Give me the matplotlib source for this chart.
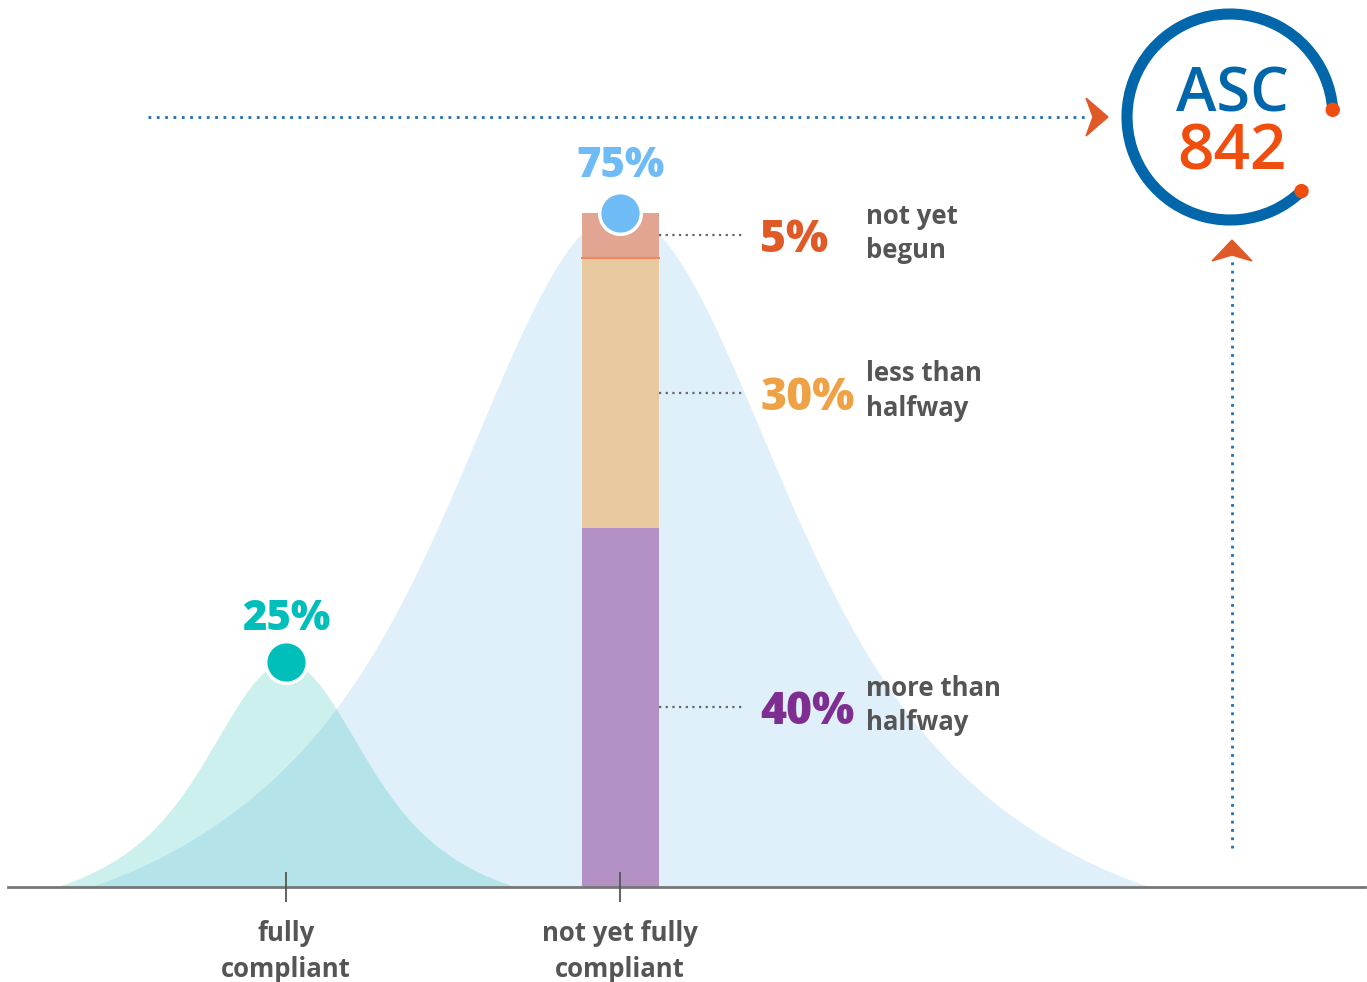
"""Compliance distribution chart with ASC 842 badge."""

import numpy as np
import matplotlib
matplotlib.use("Agg")
import matplotlib.pyplot as plt  # noqa: E402
from matplotlib.patches import Arc, Circle, Polygon  # noqa: E402

# ---- data -------------------------------------------------------------
categories = ["fully\ncompliant", "not yet fully\ncompliant"]
group_share = [25, 75]                       # peak of each bell
segment_values = [40, 30, 5]                 # stacked inside the 75% bar
segment_labels = ["more than\nhalfway", "less than\nhalfway", "not yet\nbegun"]
segment_colors = ["#b491c4", "#e8c9a0", "#e1a591"]
segment_text_colors = ["#7e2d91", "#eea245", "#e05a28"]

GREY = "#555555"
W, H = 1367, 982
FONT = "Open Sans"

fig = plt.figure(figsize=(W / 100, H / 100), dpi=100)
ax = fig.add_axes([0, 0, 1, 1])

# pixel frame -> data: category 0 at px 286, category 1 at px 620, baseline at px 887
px_per_x = 334.0
px_per_y = 674.0 / 75
x0 = -286 / px_per_x
ax.set_xlim(x0, (W - 286) / px_per_x)
ax.set_ylim(-(H - 887) / px_per_y, 887 / px_per_y)


def fx(px):
    return px / W


def fy(py):
    return 1 - py / H


def bell(d, s1, s2, reach, w=0.5):
    # soft bell: narrow core + wider shoulders, tapered to zero at +-reach
    g = lambda t: w * np.exp(-0.5 * (t / s1) ** 2) + (1 - w) * np.exp(-0.5 * (t / s2) ** 2)
    return np.clip((g(d) - g(reach)) / (1 - g(reach)), 0, None)


# shape of each bell in px: core width, shoulder width, half-span
bell_shapes = [(60, 120, 230), (125, 255, 530)]
bell_colors = [("#34c4bc", 0.25), ("#e0f0fa", 1.0)]

# ---- bells ------------------------------------------------------------
for i in (1, 0):
    s1, s2, reach = (v / px_per_x for v in bell_shapes[i])
    xs = np.linspace(i - reach, i + reach, 400)
    ys = group_share[i] * bell(xs - i, s1, s2, reach)
    col, a = bell_colors[i]
    ax.fill_between(xs, 0, ys, color=col, alpha=a, lw=0, zorder=1 + (1 - i))

# ---- stacked bar ------------------------------------------------------
bw = 77 / px_per_x
bottom = 0
mids = []
for v, c in zip(segment_values, segment_colors):
    ax.bar(1, v, bottom=bottom, width=bw, color=c, lw=0, zorder=3)
    mids.append(bottom + v / 2)
    bottom += v
ax.plot([1 - bw / 2, 1 + bw / 2], [bottom - segment_values[-1]] * 2,
        color="#ee8a5a", lw=1.5, zorder=4)

# leaders + labels
for m, v, lab, tc in zip(mids, segment_values, segment_labels, segment_text_colors):
    ax.plot([1 + bw / 2, 745 / px_per_x + x0], [m, m],
            color="#666666", lw=1.6, ls=(0, (1, 2)), zorder=4)
    ax.text(760 / px_per_x + x0, m, f"{v}%", color=tc, fontsize=32,
            fontweight=800, family=FONT, va="center_baseline", ha="left")
    ax.text(866 / px_per_x + x0, m + 0.2, lab, color=GREY, fontsize=18.5,
            fontweight="bold", family=FONT, va="center", ha="left", linespacing=1.35)

# peak dots + labels
dot_colors = ["#00bfba", "#6ebbf5"]
label_offsets = [23, 26]
for i, (s, c) in enumerate(zip(group_share, dot_colors)):
    ax.scatter([i], [s], s=900, color=c, edgecolor="white", linewidth=2.5, zorder=6)
    ax.annotate(f"{s}%", (i, s), xytext=(0, label_offsets[i]), textcoords="offset points",
                ha="center", va="baseline", color=c, fontsize=30, fontweight=800,
                family=FONT, zorder=6)

# ---- axis -------------------------------------------------------------
for sp in ("top", "right", "left"):
    ax.spines[sp].set_visible(False)
ax.spines["bottom"].set_position(("data", 0))
ax.spines["bottom"].set_bounds(x0 + 8 / px_per_x, ax.get_xlim()[1] - 2 / px_per_x)
ax.spines["bottom"].set_color("#777777")
ax.spines["bottom"].set_linewidth(2)
ax.spines["bottom"].set_zorder(5)
ax.xaxis.set_zorder(7)
ax.set_yticks([])
ax.set_xticks(range(len(categories)))
ax.set_xticklabels(categories, color=GREY, fontsize=18.5, fontweight="bold",
                   family=FONT, linespacing=1.4)
ax.tick_params(axis="x", direction="inout", length=22, width=1.3, color="#555555", pad=13)
ax.patch.set_alpha(0)

# ---- dotted arrows ----------------------------------------------------
BLUE = "#1f6fb2"
ORANGE = "#e05a28"
ax.plot([fx(148), fx(1088)], [fy(117), fy(117)], transform=ax.transAxes,
        color=BLUE, lw=2, ls=(0, (1, 2)), zorder=5)
ax.add_patch(Polygon([(fx(1086), fy(98)), (fx(1108), fy(117)), (fx(1086), fy(136)),
                      (fx(1093), fy(117))], closed=True, color=ORANGE,
                     transform=ax.transAxes, zorder=6))
ax.plot([fx(1232), fx(1232)], [fy(848), fy(258)], transform=ax.transAxes,
        color=BLUE, lw=2, ls=(0, (1, 2)), zorder=5)
ax.add_patch(Polygon([(fx(1212), fy(261)), (fx(1232), fy(240)), (fx(1252), fy(261)),
                      (fx(1232), fy(255))], closed=True, color=ORANGE,
                     transform=ax.transAxes, zorder=6))

# ---- ASC 842 badge ----------------------------------------------------
size = 240
lax = fig.add_axes([(1230 - size / 2) / W, (H - 117 - size / 2) / H, size / W, size / H])
lax.set_xlim(-1.2, 1.2)
lax.set_ylim(-1.2, 1.2)
lax.set_aspect("equal")
lax.axis("off")
r = 1.03
t1, t2 = 4, 314
lax.add_patch(Arc((0, 0), 2 * r, 2 * r, theta1=t1, theta2=t2, color="#0266aa", lw=8))
for t in (t1, t2):
    lax.add_patch(Circle((r * np.cos(np.radians(t)), r * np.sin(np.radians(t))), 0.065,
                         color="#f04e0f", zorder=3))
lax.text(0.02, 0.05, "ASC", ha="center", va="baseline", color="#0266aa", fontsize=44,
         fontweight=600, family=FONT)
lax.text(0.02, -0.53, "842", ha="center", va="baseline", color="#f04e0f", fontsize=46,
         fontweight=600, family=FONT)

fig.savefig("out.png", dpi=100)
